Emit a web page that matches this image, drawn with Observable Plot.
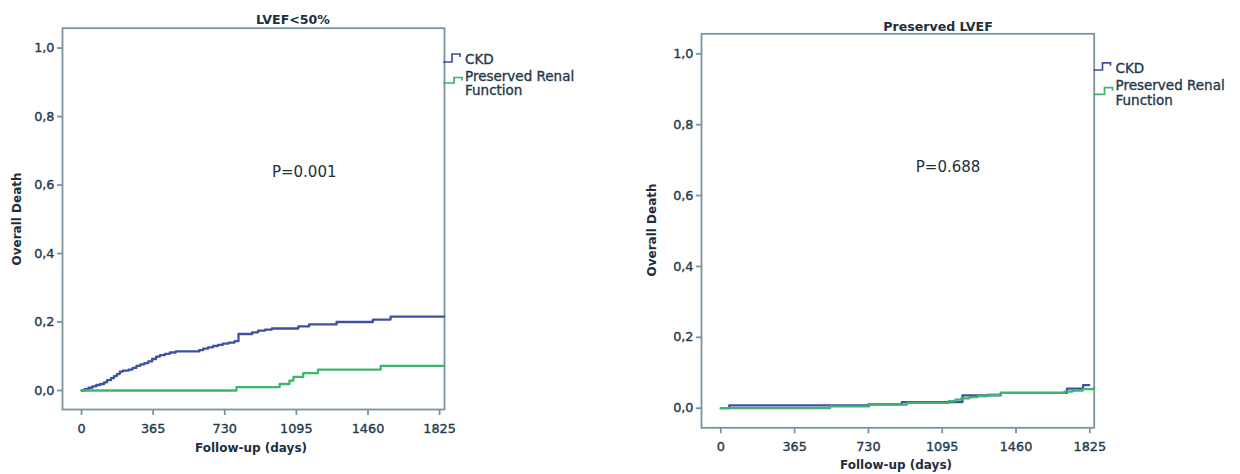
<!DOCTYPE html>
<html>
<head>
<meta charset="utf-8">
<script src="https://cdn.jsdelivr.net/npm/d3@7"></script>
<script src="https://cdn.jsdelivr.net/npm/@observablehq/plot@0.6"></script>
<style>
html, body { margin: 0; padding: 0; background: #ffffff; }
#wrap { position: relative; width: 1240px; height: 474px; overflow: hidden; font-family: "DejaVu Sans", sans-serif; color: #22384a; }
.panel { position: absolute; top: 0; }
#overlay { position: absolute; left: 0; top: 0; pointer-events: none; }
g[aria-label="x-axis tick label"] text, g[aria-label="y-axis tick label"] text, .legtext { stroke: #23394b; stroke-width: 0.35px; }
</style>
</head>
<body>
<div id="wrap"><div id="p0" class="panel" style="left:0px"></div><div id="p1" class="panel" style="left:620px"></div><svg id="overlay" width="1240" height="474"></svg></div>
<script>
// ---------- DATA ----------
const dayTicks = [0, 365, 730, 1095, 1460, 1825];
const deathTicks = [0, 0.2, 0.4, 0.6, 0.8, 1.0];
const groups = ["CKD", "Preserved Renal Function"];
const panelTitles = ["LVEF<50%", "Preserved LVEF"];
const pValues = ["P=0.001", "P=0.688"];
const pValueDay = [1135, 1124];
const pValueDeath = [0.638, 0.679];

// LVEF<50%: CKD
const lowCkdDays = [0, 15, 35, 55, 75, 95, 115, 130, 150, 165, 180, 195, 210, 240, 260, 280, 300, 320, 340, 360, 380, 400, 425, 450, 480, 600, 620, 645, 670, 695, 720, 750, 780, 800, 870, 900, 935, 970, 1105, 1160, 1300, 1485, 1575, 1848];
const lowCkdDeath = [0, 0.004, 0.008, 0.012, 0.016, 0.019, 0.024, 0.030, 0.036, 0.042, 0.048, 0.055, 0.058, 0.061, 0.066, 0.072, 0.076, 0.080, 0.085, 0.092, 0.099, 0.103, 0.107, 0.111, 0.114, 0.118, 0.122, 0.126, 0.130, 0.133, 0.137, 0.140, 0.144, 0.165, 0.170, 0.175, 0.178, 0.181, 0.187, 0.193, 0.200, 0.207, 0.216, 0.216];
// LVEF<50%: Preserved renal function
const lowPrfDays = [0, 790, 1010, 1060, 1080, 1130, 1205, 1525, 1848];
const lowPrfDeath = [0, 0.010, 0.019, 0.029, 0.040, 0.051, 0.061, 0.072, 0.072];
// Preserved LVEF: CKD
const presCkdDays = [0, 42, 730, 895, 1195, 1385, 1712, 1792, 1822];
const presCkdDeath = [0, 0.008, 0.011, 0.017, 0.036, 0.043, 0.055, 0.065, 0.065];
// Preserved LVEF: Preserved renal function
const presPrfDays = [0, 540, 733, 920, 1127, 1160, 1190, 1230, 1270, 1320, 1385, 1700, 1740, 1790, 1846];
const presPrfDeath = [0, 0.005, 0.010, 0.015, 0.020, 0.024, 0.028, 0.031, 0.034, 0.038, 0.043, 0.047, 0.050, 0.054, 0.058];

// ---------- STYLE / LAYOUT ----------
const blue = "#3e4fa6";
const green = "#3fb56c";
const frameColor = "#7b939f";
const textColor = "#23394b";
const layouts = [
  { el: "#p0", ox: 0, fl: 62, fr: 444, ft: 27.7, fb: 409, xDomain: [-97, 1850], yDomain: [-0.0555, 1.058],
    title: [293, 19.5], ylab: [17, 219], xlab: [251, 448],
    leg: { x: 443, ckd: [62, 54, 58.5], prf: [83, 77.5, 75.5, 89.5] } },
  { el: "#p1", ox: 620, fl: 701, fr: 1093.7, ft: 33.3, fb: 427.3, xDomain: [-95.5, 1846.7], yDomain: [-0.0553, 1.0565],
    title: [938, 26.5], ylab: [652, 230], xlab: [896, 465],
    leg: { x: 1093.5, ckd: [70, 62.8, 67.5], prf: [94.3, 87.7, 85, 99.7] } }
];
const series = [
  [[lowCkdDays, lowCkdDeath], [lowPrfDays, lowPrfDeath]],
  [[presCkdDays, presCkdDeath], [presPrfDays, presPrfDeath]]
];
const yFmt = d => d3.format(".1f")(d).replace(".", ",");
const xFmt = d => String(d);

layouts.forEach((L, i) => {
  const rows = series[i].map(([days, vals], g) => days.map((d, k) => ({ day: d, death: vals[k], group: groups[g] })));
  const chart = Plot.plot({
    width: 620,
    height: 474,
    marginLeft: L.fl - L.ox,
    marginRight: 620 - (L.fr - L.ox),
    marginTop: L.ft,
    marginBottom: 474 - L.fb,
    x: { domain: L.xDomain },
    y: { domain: L.yDomain },
    style: { fontFamily: "DejaVu Sans, sans-serif", fontSize: "12.8px", color: textColor, background: "transparent", overflow: "visible" },
    marks: [
      Plot.frame({ stroke: frameColor, strokeWidth: 1.8 }),
      Plot.axisX({ ticks: dayTicks, tickSize: 6, tickPadding: 8, tickFormat: xFmt, stroke: frameColor, strokeWidth: 1.8, fill: textColor, label: null }),
      Plot.axisY({ ticks: deathTicks, tickSize: 5, tickPadding: 3, tickFormat: yFmt, stroke: frameColor, strokeWidth: 1.8, fill: textColor, label: null }),
      Plot.line(rows[0], { x: "day", y: "death", stroke: blue, strokeWidth: 2.3, curve: "step-after" }),
      Plot.line(rows[1], { x: "day", y: "death", stroke: green, strokeWidth: 2.3, curve: "step-after" }),
      Plot.text([pValues[i]], { x: pValueDay[i], y: pValueDeath[i], text: d => d, fontSize: 15, fill: "#1d2f3c" })
    ]
  });
  document.querySelector(L.el).appendChild(chart);
});

// ---------- titles, axis labels, legends ----------
const ov = d3.select("#overlay");
layouts.forEach((L, i) => {
  ov.append("text").attr("x", L.title[0]).attr("y", L.title[1]).attr("text-anchor", "middle").attr("dominant-baseline", "central")
    .attr("font-size", 12.6).attr("font-weight", "bold").attr("fill", "#1d2f3c").text(panelTitles[i]);
  ov.append("text").attr("transform", `translate(${L.ylab[0]},${L.ylab[1]}) rotate(-90)`).attr("text-anchor", "middle").attr("dominant-baseline", "central")
    .attr("font-size", 12).attr("font-weight", "bold").attr("fill", "#1d2f3c").text("Overall Death");
  ov.append("text").attr("x", L.xlab[0]).attr("y", L.xlab[1]).attr("text-anchor", "middle").attr("dominant-baseline", "central")
    .attr("font-size", 12).attr("font-weight", "bold").attr("fill", "#1d2f3c").text("Follow-up (days)");
  const x0 = L.leg.x;
  const c = L.leg.ckd, p = L.leg.prf;
  ov.append("path").attr("d", `M${x0},${c[0]}H${x0 + 9}V${c[1]}H${x0 + 17}V${c[1] + 3}`).attr("fill", "none").attr("stroke", blue).attr("stroke-width", 1.7);
  ov.append("path").attr("d", `M${x0},${p[0]}H${x0 + 11}V${p[1]}H${x0 + 19}V${p[1] + 3}`).attr("fill", "none").attr("stroke", green).attr("stroke-width", 1.7);
  ov.append("text").attr("class", "legtext").attr("x", x0 + 22).attr("y", c[2]).attr("dominant-baseline", "central").attr("font-size", 13.5).attr("fill", textColor).text("CKD");
  ov.append("text").attr("class", "legtext").attr("x", x0 + 22).attr("y", p[2]).attr("dominant-baseline", "central").attr("font-size", 13.5).attr("fill", textColor).text("Preserved Renal");
  ov.append("text").attr("class", "legtext").attr("x", x0 + 22).attr("y", p[3]).attr("dominant-baseline", "central").attr("font-size", 13.5).attr("fill", textColor).text("Function");
});
</script>
</body>
</html>
